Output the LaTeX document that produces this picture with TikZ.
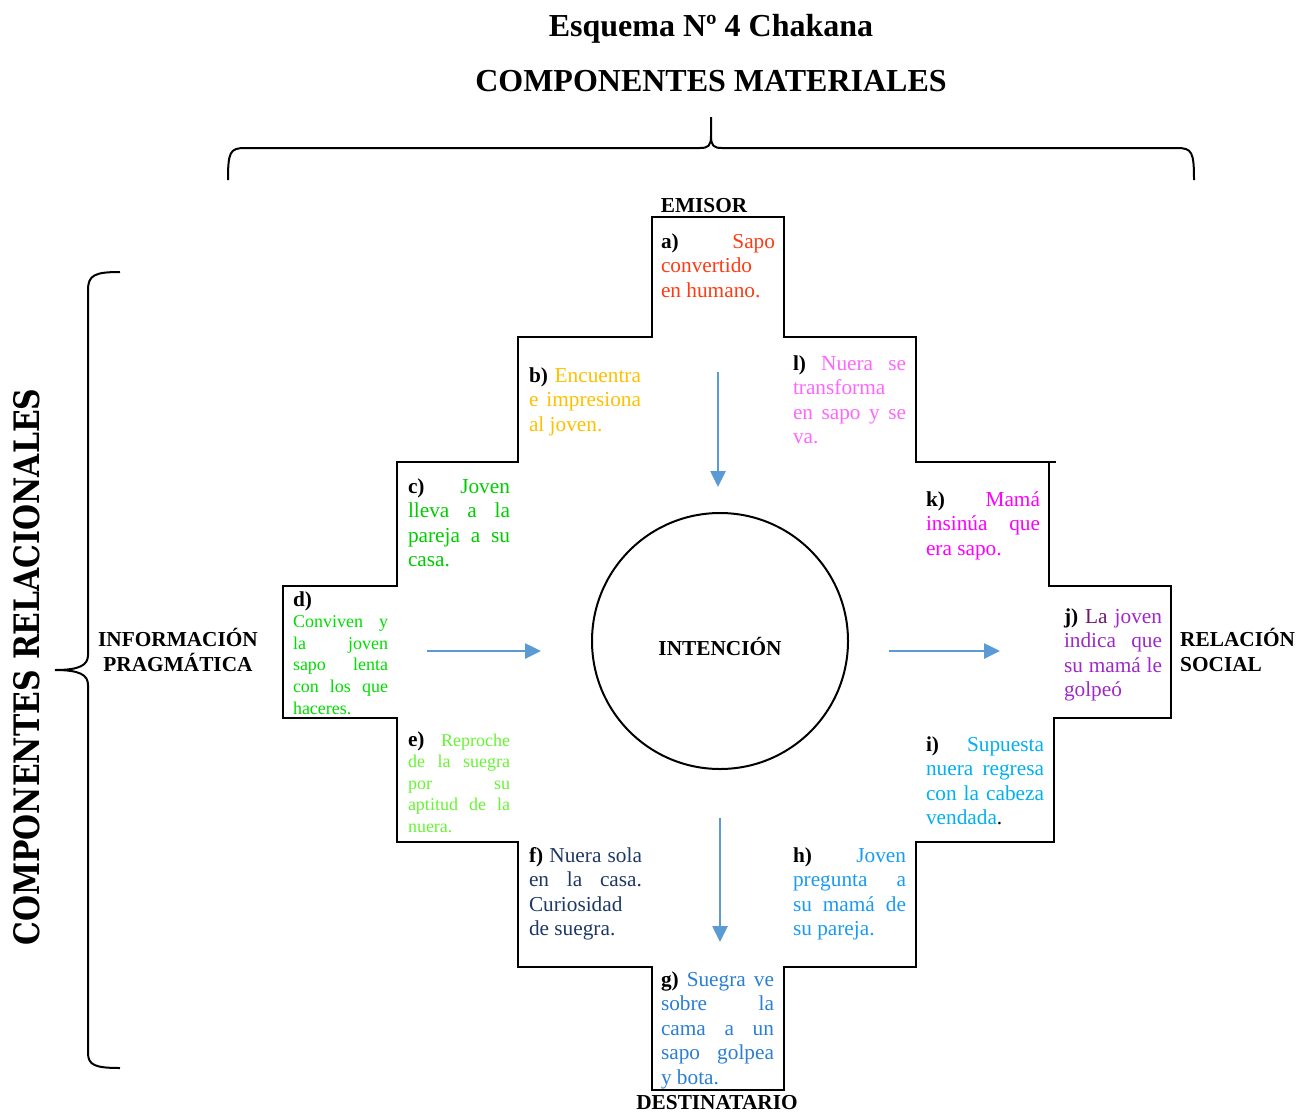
\documentclass[tikz,border=0pt]{standalone}
\usepackage{fontspec}
\setmainfont{Liberation Serif}
\newfontfamily\vfont{DejaVu Serif}
\usetikzlibrary{arrows.meta}
\definecolor{ca}{HTML}{FF3B14}
\definecolor{cb}{HTML}{FFC000}
\definecolor{cl}{HTML}{FF66FF}
\definecolor{cc}{HTML}{00CC00}
\definecolor{cd}{HTML}{00DD00}
\definecolor{ce}{HTML}{66F433}
\definecolor{ck}{HTML}{FF00FF}
\definecolor{cjd}{HTML}{6E1A6E}
\definecolor{cj}{HTML}{9E28C8}
\definecolor{ci}{HTML}{00B0F0}
\definecolor{cf}{HTML}{1F3864}
\definecolor{ch}{HTML}{1A9BF2}
\definecolor{cg}{HTML}{2A7FD4}
\definecolor{arrblue}{HTML}{5B9BD5}
\setlength\parindent{0pt}
\tolerance=10000
\hbadness=10000
\hyphenpenalty=10000
\newcommand\biglbl[1]{{\fontsize{21.3}{21.6}\selectfont\bfseries #1}}
\begin{document}
\begin{tikzpicture}[x=1pt,y=-1pt,
  outline/.style={line width=2.4pt,black,line join=miter},
  blk/.style={anchor=base west,inner sep=0pt,outer sep=0pt,align=justify,text width=#1,
     font=\fontsize{21.3}{24.5}\selectfont},
  blksm/.style={blk=#1,font=\fontsize{18}{21.6}\selectfont},
  arr/.style={draw=arrblue,line width=2.6pt,-{Triangle[length=16pt,width=15pt]}},
  lbl/.style={font=\fontsize{21.3}{24.5}\selectfont\bfseries,inner sep=0pt},
  ttl/.style={font=\fontsize{32}{36}\selectfont\bfseries,inner sep=0pt,anchor=base},
  brace/.style={line width=2pt,black}]
\useasboundingbox (0,0) rectangle (1298,1112);
% titles
\node[ttl] (t1) at (711,36) {Esquema Nº 4 Chakana};
\node[ttl] (t2) at (711,91) {COMPONENTES MATERIALES};
% braces
\draw[brace] (228,180) .. controls (228,152) and (230,148) .. (245,148) -- (700,148)
  .. controls (708,148) and (711,146) .. (711,136) -- (711,117) -- (711,136)
  .. controls (711,146) and (714,148) .. (722,148) -- (1177,148)
  .. controls (1192,148) and (1194,152) .. (1194,180);
\draw[brace] (120,272) .. controls (95,272) and (88,275) .. (88,290) -- (88,655)
  .. controls (88,665) and (80,670) .. (55,670)
  .. controls (80,670) and (88,675) .. (88,685) -- (88,1053)
  .. controls (88,1065) and (95,1068) .. (120,1068);
\node[rotate=90,inner sep=0pt] (vt) at (27,667)
  {\resizebox{557pt}{26pt}{\vfont\bfseries COMPONENTES RELACIONALES}};
% chakana outline
\draw[outline] (652,217) -- (784,217) -- (784,337) -- (916,337) -- (916,462) -- (1049,462)
  -- (1049,586) -- (1171,586) -- (1171,718) -- (1054,718) -- (1054,842) -- (916,842)
  -- (916,967) -- (784,967) -- (784,1090) -- (652,1090) -- (652,967) -- (518,967)
  -- (518,842) -- (397,842) -- (397,718) -- (283,718) -- (283,586) -- (397,586)
  -- (397,462) -- (518,462) -- (518,337) -- (652,337) -- cycle;
\draw[outline] (1049,462) -- (1056,462);
% labels
\node[lbl,anchor=base] (emisor) at (704,212) {EMISOR};
\node[lbl,anchor=base] (dest) at (717,1109) {DESTINATARIO};
\node[lbl,anchor=base,align=center] (info) at (178,671) {INFORMACIÓN\\PRAGMÁTICA};
\node[lbl,anchor=base west,align=left] (rel) at (1180,671) {RELACIÓN\\SOCIAL};
% circle
\node[draw,circle,line width=2pt,minimum size=256pt,inner sep=0pt] (circ) at (720,641) {};
\node[lbl,anchor=base] (int) at (720,655) {INTENCIÓN};
% arrows
\coordinate (u1) at (718,372); \coordinate (u2) at (718,487);
\coordinate (l1) at (427,651); \coordinate (l2) at (541,651);
\coordinate (r1) at (889,651); \coordinate (r2) at (1000,651);
\coordinate (d1) at (720,818); \coordinate (d2) at (720,942);
\draw[arr] (u1) -- (u2);
\draw[arr] (l1) -- (l2);
\draw[arr] (r1) -- (r2);
\draw[arr] (d1) -- (d2);
% texts
\node[blk=114pt] (a) at (661,248) {\textbf{a)} \color{ca}Sapo\linebreak convertido\linebreak en humano.};
\node[blk=112pt] (b) at (529,382) {\textbf{b)} \color{cb}Encuentra\linebreak e impresiona\linebreak al joven.};
\node[blk=113pt] (l) at (793,370) {\textbf{l)} \color{cl}Nuera se\linebreak transforma\linebreak en sapo y se\linebreak va.};
\node[blk=102pt] (c) at (408,493) {\textbf{c)} \color{cc}Joven\linebreak lleva a la\linebreak pareja a su\linebreak casa.};
\node[blk=114pt] (k) at (926,506) {\textbf{k)} \color{ck}Mamá\linebreak insinúa que\linebreak era sapo.};
\node[blksm=95pt] (d) at (293,606) {\biglbl{d)}\linebreak \color{cd}Conviven y\linebreak la joven\linebreak sapo lenta\linebreak con los que\linebreak haceres.};
\node[blk=98pt] (j) at (1064,623) {\textbf{j)} \textcolor{cjd}{La} \color{cj}joven\linebreak indica que\linebreak su mamá le\linebreak golpeó};
\node[blksm=102pt] (e) at (408,746) {\biglbl{e)} \color{ce}Reproche\linebreak de la suegra\linebreak por su\linebreak aptitud de la\linebreak nuera.};
\node[blk=118pt] (i) at (926,751) {\textbf{i)} \textcolor{ci}{Supuesta\linebreak nuera regresa\linebreak con la cabeza\linebreak vendada}.};
\node[blk=113pt] (f) at (529,862) {\textbf{f)} \color{cf}Nuera sola\linebreak en la casa.\linebreak Curiosidad\linebreak de suegra.};
\node[blk=113pt] (h) at (793,862) {\textbf{h)} \color{ch}Joven\linebreak pregunta a\linebreak su mamá de\linebreak su pareja.};
\node[blk=113pt] (g) at (661,986) {\textbf{g)} \color{cg}Suegra ve\linebreak sobre la\linebreak cama a un\linebreak sapo golpea\linebreak y bota.};
\end{tikzpicture}
\end{document}
